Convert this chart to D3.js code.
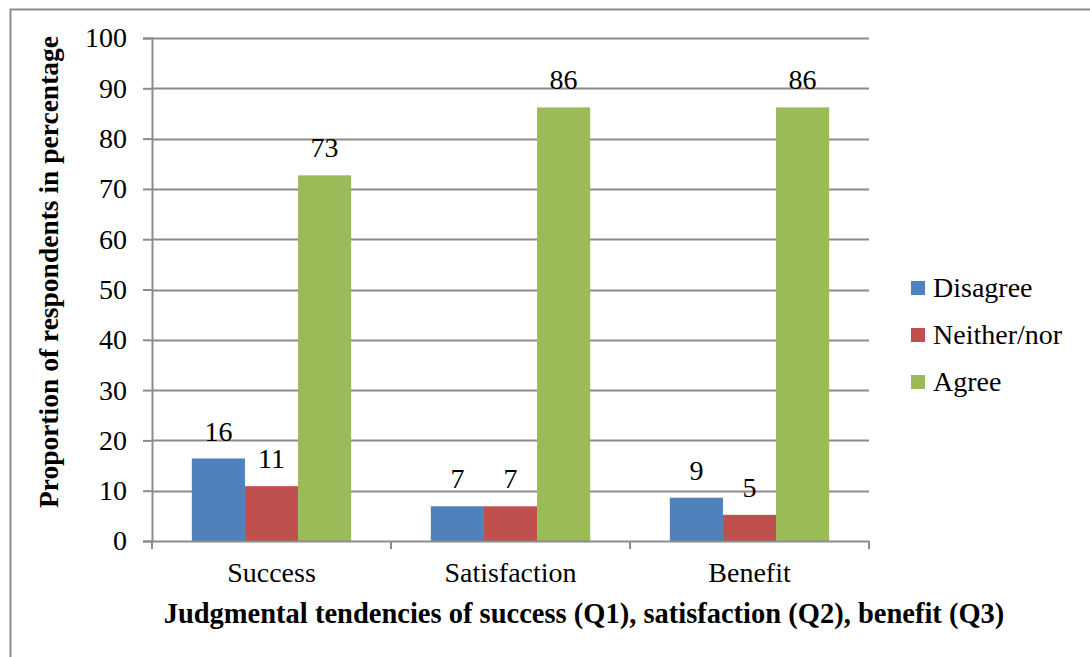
<!DOCTYPE html>
<html>
<head>
<meta charset="utf-8">
<script src="https://cdn.jsdelivr.net/npm/d3@7"></script>
<style>
  html, body { margin: 0; padding: 0; background: #fff; }
  svg { display: block; }
  text { font-family: "Liberation Serif", "DejaVu Serif", serif; fill: #000; }
</style>
</head>
<body>
<svg id="chart" width="1090" height="657"></svg>
<script>
// Judgmental tendencies, percentage of respondents per answer
const categories = ["Success", "Satisfaction", "Benefit"];
const seriesNames = ["Disagree", "Neither/nor", "Agree"];
const disagree = [16.4, 6.9, 8.6];
const neither = [10.9, 6.9, 5.2];
const agree = [72.7, 86.2, 86.2];
const yTicks = [0, 10, 20, 30, 40, 50, 60, 70, 80, 90, 100];
const colors = ["#4f81bd", "#c0504d", "#9bbb59"];

const seriesValues = [disagree, neither, agree];
const rows = categories.map((c, i) => ({
  category: c,
  values: seriesNames.map((s, k) => ({ series: s, value: seriesValues[k][i] }))
}));

const svg = d3.select("#chart");

// outer frame
svg.append("rect")
  .attr("x", 10.5).attr("y", 9.5)
  .attr("width", 1100).attr("height", 700)
  .attr("fill", "none").attr("stroke", "#8c8c8c").attr("stroke-width", 2);

const plot = { left: 152, right: 869, top: 38, bottom: 541 };

const x = d3.scaleBand()
  .domain(categories)
  .range([plot.left, plot.right])
  .paddingInner(0).paddingOuter(0);

const barW = x.bandwidth() / 4.5;
const xs = d3.scaleBand()
  .domain(seriesNames)
  .range([0, barW * 3]);

const y = d3.scaleLinear().domain([0, 100]).range([plot.bottom, plot.top]);

// horizontal gridlines
svg.append("g")
  .selectAll("line")
  .data(yTicks.filter(t => t > 0))
  .join("line")
  .attr("x1", plot.left).attr("x2", plot.right)
  .attr("y1", d => Math.round(y(d)) + 0.5).attr("y2", d => Math.round(y(d)) + 0.5)
  .attr("stroke", "#8c8c8c").attr("stroke-width", 2);

// y axis
const yAxis = d3.axisLeft(y).tickValues(yTicks).tickSize(9).tickPadding(16).tickFormat(d3.format("d"));
const gy = svg.append("g")
  .attr("transform", `translate(${plot.left},0)`)
  .call(yAxis);
gy.select(".domain").attr("stroke", "#8c8c8c").attr("stroke-width", 2);
gy.selectAll(".tick line").attr("stroke", "#8c8c8c").attr("stroke-width", 2);
gy.selectAll(".tick text")
  .attr("font-family", "Liberation Serif")
  .attr("font-size", 28).attr("fill", "#000");

// bars
const groups = svg.append("g")
  .selectAll("g")
  .data(rows)
  .join("g")
  .attr("transform", d => `translate(${x(d.category) + (x.bandwidth() - barW * 3) / 2},0)`);

groups.selectAll("rect")
  .data(d => d.values)
  .join("rect")
  .attr("x", d => xs(d.series))
  .attr("width", xs.bandwidth())
  .attr("y", d => y(d.value))
  .attr("height", d => y(0) - y(d.value))
  .attr("fill", (d, i) => colors[i]);

groups.selectAll("text.val")
  .data(d => d.values)
  .join("text")
  .attr("class", "val")
  .attr("x", d => xs(d.series) + xs.bandwidth() / 2)
  .attr("y", d => y(d.value) - 18)
  .attr("text-anchor", "middle")
  .attr("font-size", 28)
  .text(d => d3.format(".0f")(d.value));

// x axis
const xAxis = d3.axisBottom(x).tickSize(0).tickPadding(21);
const gx = svg.append("g")
  .attr("transform", `translate(0,${plot.bottom})`)
  .call(xAxis);
gx.select(".domain").attr("stroke", "#8c8c8c").attr("stroke-width", 2);
gx.selectAll(".tick text")
  .attr("font-family", "Liberation Serif")
  .attr("font-size", 28).attr("fill", "#000");
// category separators below the axis
gx.append("g")
  .selectAll("line")
  .data(categories.map(c => x(c)).concat([plot.right]))
  .join("line")
  .attr("x1", d => d).attr("x2", d => d)
  .attr("y1", 0).attr("y2", 8)
  .attr("stroke", "#8c8c8c").attr("stroke-width", 2);

// axis titles
svg.append("text")
  .attr("transform", "translate(58,272) rotate(-90)")
  .attr("text-anchor", "middle")
  .attr("font-weight", "bold")
  .attr("font-size", 27.5)
  .text("Proportion of respondents in percentage");

svg.append("text")
  .attr("x", 584).attr("y", 623)
  .attr("text-anchor", "middle")
  .attr("font-weight", "bold")
  .attr("font-size", 28.5)
  .text("Judgmental tendencies of success (Q1), satisfaction (Q2), benefit (Q3)");

// legend
const legend = svg.append("g")
  .selectAll("g")
  .data(seriesNames)
  .join("g")
  .attr("transform", (d, i) => `translate(911,${281 + i * 47})`);
legend.append("rect")
  .attr("width", 14).attr("height", 14)
  .attr("fill", (d, i) => colors[i]);
legend.append("text")
  .attr("x", 22).attr("y", 16)
  .attr("font-size", 28)
  .text(d => d);
</script>
</body>
</html>
